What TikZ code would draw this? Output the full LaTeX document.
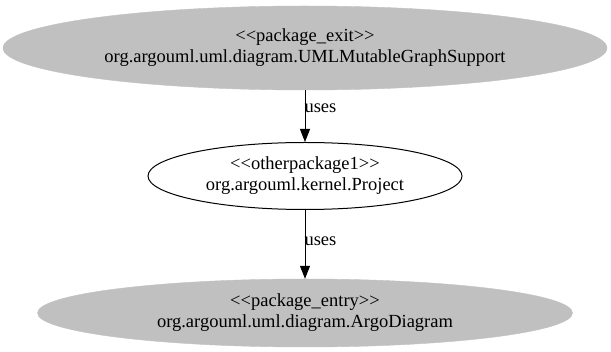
\documentclass[tikz,border=0pt]{standalone}
\usepackage{fontspec}
\setmainfont{Liberation Serif}[Ligatures=TeXOff]
\usetikzlibrary{shapes.geometric,arrows.meta}
\definecolor{pkggray}{RGB}{192,192,192}
\begin{document}
\begin{tikzpicture}[x=1pt,y=-1pt,
  txt/.style={font=\fontsize{18.5}{21}\selectfont},
  pkg/.style={ellipse,fill=pkggray,draw=pkggray,inner sep=0pt,align=center,txt},
  other/.style={ellipse,draw=black,fill=white,line width=1pt,inner sep=0pt,align=center,txt},
  uses/.style={draw=black,line width=1pt,-{Triangle[length=13pt,width=10pt]}},
  lbl/.style={txt,anchor=west,inner sep=0pt,xshift=-1pt}]
  \useasboundingbox (0,0) rectangle (611,352);
  \node[pkg,minimum width=604pt,minimum height=84pt] (exit) at (305,48)
    {<<package\_exit>>\\org.argouml.uml.diagram.UMLMutableGraphSupport};
  \node[other,minimum width=314pt,minimum height=67pt] (proj) at (305,176)
    {<<otherpackage1>>\\org.argouml.kernel.Project};
  \node[pkg,minimum width=535pt,minimum height=68pt] (entry) at (305,313)
    {<<package\_entry>>\\org.argouml.uml.diagram.ArgoDiagram};
  \draw[uses] (exit) -- node[lbl,pos=0.35] {uses} (proj);
  \draw[uses] (proj) -- node[lbl,pos=0.45] {uses} (entry);
\end{tikzpicture}
\end{document}
